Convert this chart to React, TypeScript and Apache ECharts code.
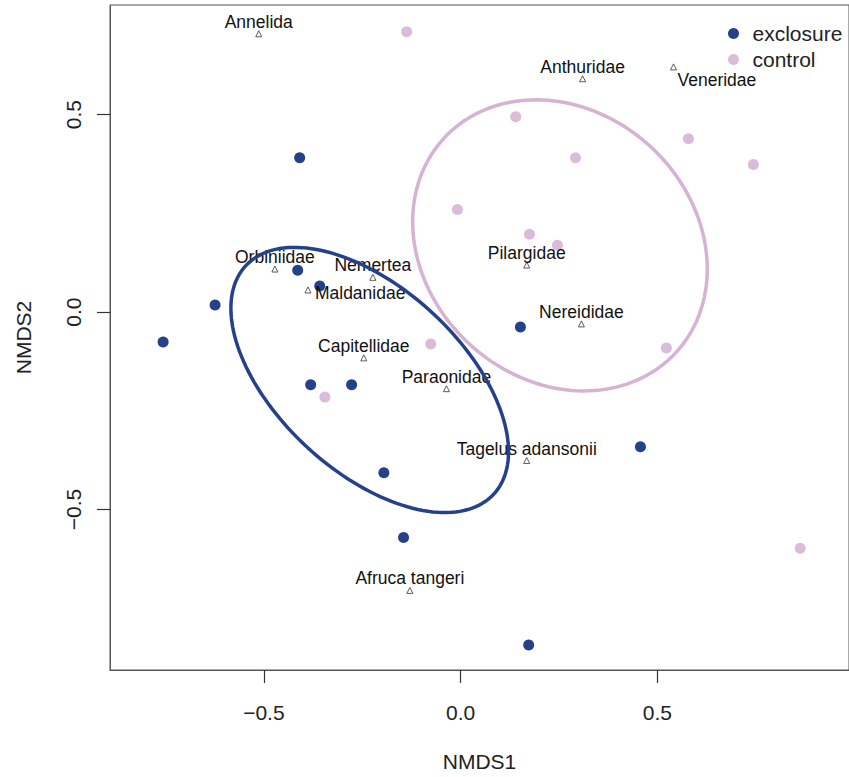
import React, { useEffect, useRef } from "react";
import * as echarts from "echarts";

// NMDS scores of the sites, per treatment
const exclosureX = [-0.409, -0.414, -0.358, -0.624, -0.756, -0.381, -0.277, -0.195, -0.145, 0.152, 0.457, 0.173];
const exclosureY = [0.391, 0.106, 0.066, 0.018, -0.076, -0.184, -0.184, -0.407, -0.571, -0.038, -0.341, -0.843];
const controlX = [-0.137, 0.14, 0.292, 0.579, 0.744, -0.008, 0.175, 0.246, -0.076, -0.345, 0.523, 0.863];
const controlY = [0.71, 0.495, 0.391, 0.439, 0.374, 0.26, 0.197, 0.169, -0.081, -0.215, -0.091, -0.598];

// species scores
const speciesNames = [
  "Annelida", "Anthuridae", "Veneridae", "Orbiniidae", "Nemertea", "Maldanidae",
  "Capitellidae", "Paraonidae", "Pilargidae", "Nereididae", "Tagelus adansonii", "Afruca tangeri",
];
const speciesX = [-0.513, 0.31, 0.541, -0.472, -0.223, -0.388, -0.246, -0.036, 0.168, 0.307, 0.168, -0.129];
const speciesY = [0.705, 0.591, 0.621, 0.109, 0.088, 0.056, -0.116, -0.194, 0.119, -0.03, -0.376, -0.705];
// label clipped by the plot border (only its end is visible)
const clippedLabel = "nilis";
const clippedLabelX = -0.807;
const clippedLabelY = -0.159;

// group ellipses: centre and covariance, in NMDS units
const ellipseGroups = ["exclosure", "control"];
const ellipseCentreX = [-0.231, 0.2525];
const ellipseCentreY = [-0.172, 0.169];
const ellipseVarX = [0.12446, 0.14015];
const ellipseVarY = [0.1128, 0.13593];
const ellipseCov = [-0.06409, -0.02243];

const xTicks = [-0.5, 0, 0.5];
const yTicks = [-0.5, 0, 0.5];

const NAVY = "#24418a";
const PINK = "#dbbcd8";
const PINK_LINE = "#d6b3d2";
const FONT = "'Liberation Sans', Arial, Helvetica, sans-serif";

const fmt = (v: number) => (v < 0 ? "\u2212" : "") + Math.abs(v).toFixed(1);

const labelPlacement: Record<string, any> = {
  Veneridae: { position: "inside", align: "left", verticalAlign: "middle", offset: [4, 13] },
  Maldanidae: { position: "inside", align: "left", verticalAlign: "middle", offset: [7, 3] },
};
const defaultPlacement = { position: "inside", align: "center", verticalAlign: "middle", offset: [0, -12] };

export default function App() {
  const ref = useRef<HTMLDivElement>(null);
  useEffect(() => {
    if (!ref.current) return;
    const chart = echarts.init(ref.current, undefined, { renderer: "svg" });
    const ellipseColors = [NAVY, PINK_LINE];
    const speciesData: any[] = speciesNames.map((n, i) => ({
      name: n,
      value: [speciesX[i], speciesY[i]],
      label: labelPlacement[n] || defaultPlacement,
    }));
    speciesData.push({
      name: clippedLabel,
      value: [clippedLabelX, clippedLabelY],
      symbol: "none",
      label: { position: "inside", align: "right", verticalAlign: "middle", offset: [0, 0] },
    });
    chart.setOption({
      animation: false,
      grid: {
        left: 110,
        top: 5,
        right: -1,
        bottom: 105,
        show: true,
        borderColor: "#555",
        borderWidth: 1,
      },
      legend: {
        data: [
          { name: "exclosure", icon: "circle" },
          { name: "control", icon: "circle" },
        ],
        orient: "vertical",
        left: 728,
        top: 23,
        itemWidth: 28,
        itemHeight: 11,
        itemGap: 5,
        padding: 0,
        selectedMode: false,
        textStyle: { fontSize: 21, color: "#222", fontFamily: FONT },
      },
      xAxis: {
        type: "value",
        min: -0.891,
        max: 0.987,
        splitLine: { show: false },
        axisLine: { show: true, onZero: false, lineStyle: { color: "#555", width: 1 } },
        axisTick: { show: true, length: 13, customValues: xTicks, lineStyle: { color: "#333", width: 1.2 } },
        axisLabel: { customValues: xTicks, formatter: fmt, fontSize: 21, margin: 32, color: "#222", fontFamily: FONT },
        name: "NMDS1",
        nameLocation: "middle",
        nameGap: 81,
        nameTextStyle: { fontSize: 21, color: "#222", fontFamily: FONT },
      },
      yAxis: {
        type: "value",
        min: -0.9066,
        max: 0.7778,
        splitLine: { show: false },
        axisLine: { show: true, onZero: false, lineStyle: { color: "#555", width: 1 } },
        axisTick: { show: true, length: 13, customValues: yTicks, lineStyle: { color: "#333", width: 1.2 } },
        axisLabel: { customValues: yTicks, formatter: fmt, rotate: 90, fontSize: 21, margin: 26, color: "#222", fontFamily: FONT },
        name: "NMDS2",
        nameLocation: "middle",
        nameGap: 76,
        nameRotate: 90,
        nameTextStyle: { fontSize: 21, color: "#222", fontFamily: FONT },
      },
      series: [
        {
          name: "exclosure",
          type: "scatter",
          data: exclosureX.map((x, i) => [x, exclosureY[i]]),
          symbolSize: 11,
          itemStyle: { color: NAVY, opacity: 1 },
          z: 2,
        },
        {
          name: "control",
          type: "scatter",
          data: controlX.map((x, i) => [x, controlY[i]]),
          symbolSize: 11,
          itemStyle: { color: PINK, opacity: 1 },
          z: 2,
        },
        {
          type: "scatter",
          data: speciesData,
          symbol: "triangle",
          symbolSize: 6,
          itemStyle: { color: "#fff", borderColor: "#333", borderWidth: 0.8, opacity: 1 },
          label: { show: true, formatter: "{b}", fontSize: 17.5, color: "#111", fontFamily: FONT },
          z: 3,
          silent: true,
        },
        {
          type: "custom",
          coordinateSystem: "cartesian2d",
          data: ellipseGroups.map((g, i) => [
            ellipseCentreX[i], ellipseCentreY[i], ellipseVarX[i], ellipseVarY[i], ellipseCov[i], i,
          ]),
          encode: { x: 0, y: 1 },
          clip: false,
          silent: true,
          z: 5,
          renderItem: (params: any, api: any) => {
            const cx = api.value(0);
            const cy = api.value(1);
            const sxx = api.value(2);
            const syy = api.value(3);
            const sxy = api.value(4);
            const idx = api.value(5);
            const l11 = Math.sqrt(sxx);
            const l21 = sxy / l11;
            const l22 = Math.sqrt(syy - l21 * l21);
            const pts: number[][] = [];
            const n = 160;
            for (let k = 0; k <= n; k++) {
              const t = (2 * Math.PI * k) / n;
              pts.push(api.coord([cx + l11 * Math.cos(t), cy + l21 * Math.cos(t) + l22 * Math.sin(t)]));
            }
            return {
              type: "polyline",
              shape: { points: pts },
              style: { fill: "none", stroke: ellipseColors[idx], lineWidth: 3.5 },
            };
          },
        },
      ],
    });
    return () => chart.dispose();
  }, []);
  return (
    <div
      ref={ref}
      style={{ position: "fixed", left: 0, top: 0, width: 849, height: 777, background: "#fff" }}
    />
  );
}
